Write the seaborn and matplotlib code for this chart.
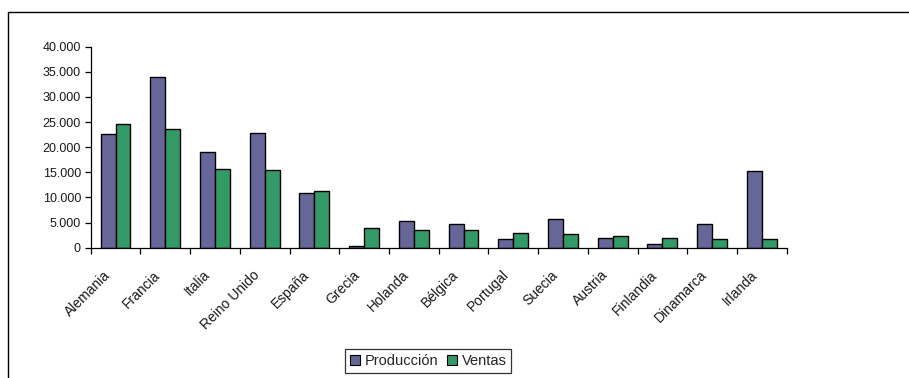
import matplotlib
matplotlib.use("Agg")
import matplotlib.pyplot as plt
from matplotlib.lines import Line2D
from matplotlib.patches import Patch
from matplotlib.ticker import FuncFormatter, FixedLocator
from matplotlib.transforms import ScaledTranslation
import seaborn as sns
import pandas as pd
import numpy as np

paises = ["Alemania", "Francia", "Italia", "Reino Unido", "España", "Grecia",
          "Holanda", "Bélgica", "Portugal", "Suecia", "Austria", "Finlandia",
          "Dinamarca", "Irlanda"]
produccion = [22600, 34000, 19100, 22800, 10900, 400, 5400, 4800, 1800, 5800,
              1900, 700, 4650, 15200]
ventas = [24600, 23700, 15700, 15400, 11300, 3850, 3600, 3600, 2900, 2700,
          2300, 1900, 1700, 1700]
series = ["Producción", "Ventas"]
colores = ["#666699", "#339966"]

df = pd.DataFrame({
    "pais": paises * 2,
    "serie": [series[0]] * len(paises) + [series[1]] * len(paises),
    "valor": produccion + ventas,
})

sns.set_theme(style="white")
plt.rcParams["font.family"] = ["Liberation Sans", "DejaVu Sans"]

fig = plt.figure(figsize=(9.09, 3.78), dpi=100)
ax = fig.add_axes([0.0998, 0.3447, 0.7656, 0.5318])

sns.barplot(data=df, x="pais", y="valor", hue="serie", order=paises,
            hue_order=series, palette=colores, width=0.6, gap=0,
            edgecolor="black", linewidth=1.0, errorbar=None, ax=ax,
            legend=False, saturation=1)

ax.set_xlim(-0.5, len(paises) - 0.5)
ax.set_ylim(0, 40000)
ax.set_yticks(np.arange(0, 40001, 5000))
ax.yaxis.set_major_formatter(
    FuncFormatter(lambda v, p: "0" if v == 0 else f"{int(v):,}".replace(",", ".")))
ax.set_xlabel("")
ax.set_ylabel("")

# category labels on the centres, tick marks on the boundaries
ax.set_xticks(range(len(paises)))
ax.set_xticklabels(paises, rotation=45, ha="right", va="center",
                   rotation_mode="anchor", fontsize=10, color="#1a1a1a")
ax.tick_params(axis="x", which="major", length=0, pad=0)
shift = ScaledTranslation(-7 / 100, -25 / 100, fig.dpi_scale_trans)
for lab in ax.get_xticklabels():
    lab.set_transform(lab.get_transform() + shift)
ax.xaxis.set_minor_locator(FixedLocator(np.arange(-0.5, len(paises), 1.0)))
ax.tick_params(axis="x", which="minor", length=4, width=0.9, color="black",
               direction="out", bottom=True)
ax.tick_params(axis="y", length=4, width=0.9, color="black", direction="out",
               left=True, labelsize=9, labelcolor="#1a1a1a", pad=3)

for s in ["top", "right"]:
    ax.spines[s].set_visible(False)
for s in ["left", "bottom"]:
    ax.spines[s].set_color("black")
    ax.spines[s].set_linewidth(0.9)

handles = [Patch(facecolor=c, edgecolor="black", linewidth=0.8) for c in colores]
leg = fig.legend(handles, series, loc="center", bbox_to_anchor=(0.471, 0.044),
                 ncol=2, frameon=True, fancybox=False, fontsize=10.5,
                 handlelength=0.7, handleheight=0.7, handletextpad=0.3,
                 columnspacing=0.6, borderpad=0.35, borderaxespad=0)
leg.get_frame().set_edgecolor("black")
leg.get_frame().set_linewidth(0.9)

# chart-area frame
fig.add_artist(Line2D([8 / 909, 1.0], [1 - 11.5 / 378, 1 - 11.5 / 378],
                      transform=fig.transFigure, color="black", lw=1.0))
fig.add_artist(Line2D([8 / 909, 8 / 909], [0.0, 1 - 11.5 / 378],
                      transform=fig.transFigure, color="black", lw=1.0))

fig.savefig("out.png", dpi=100)
